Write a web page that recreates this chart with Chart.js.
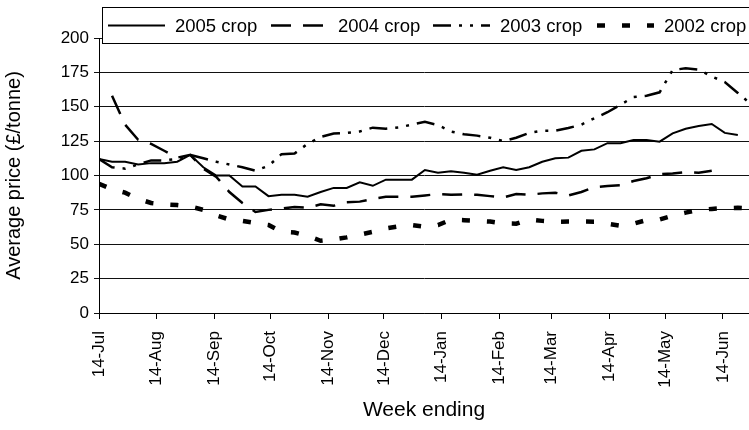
<!DOCTYPE html>
<html>
<head>
<meta charset="utf-8">
<script src="https://cdn.jsdelivr.net/npm/chart.js@4.4.1/dist/chart.umd.min.js"></script>
<style>
  html, body { margin: 0; padding: 0; background: #fff; }
  #wrap { position: relative; width: 749px; height: 430px; }
</style>
</head>
<body>
<div id="wrap"><canvas id="chart" width="749" height="430"></canvas></div>
<script>
// === DATA ===
// x axis: days after 14-Jul, one point per week
const monthLabels = ['14-Jul','14-Aug','14-Sep','14-Oct','14-Nov','14-Dec','14-Jan','14-Feb','14-Mar','14-Apr','14-May','14-Jun'];
const monthDays   = [0, 31, 62, 92, 123, 153, 184, 215, 243, 274, 304, 335];
const yTicks      = [0, 25, 50, 75, 100, 125, 150, 175, 200];

const crop2005 = [112,110,110,108,109,109,110,115,106,100, 100,92,92,85,86,86,84.5,88,91,91,
                  95,92.5,97,97,97,104,102,103,102,100.5, 103.5,106,104,106,110,112.5,113,118,119,123.5,
                  123.5,125.8,125.8,124.6,130.7,134,136,137.5,131,129.5];
const crop2004 = [null,158,137,126,123,118,113,115,105,99, 88,80,73.5,75,76,77,76.5,79,78,80.5,
                  81,83,84.6,84.6,84.6,85.5,86.5,86,86.3,86, 85,84,86.5,86,87,87.5,85.5,88,91.5,92.4,
                  93,96,98,101,101.5,102.5,102,103.5];
const crop2003 = [112,106,105,108,111,111,112,115,112.5,110, 108,106,103.5,107,115.5,116,123,128,130.5,131,
                  132,134.8,134,135,137,139,136.7,132,130,129, 127.5,125,127.5,131,132.6,132.6,134.5,137,141.6,146,
                  151.5,157,158,160.5,176.7,178,177,172,168,160, 152];
const crop2002 = [94,90,87.5,83,80,79,78.5,77.5,75,71, 68,67,65.5,64,59,58.5,56,52.5,53.5,55,
                  57,59,61.5,63,64,62.8,64,67.8,67.5,67, 66.5,65.2,65,68,67,66.4,66.5,66.5,66.4,65,
                  63.5,65,67.6,68,70.8,73,75,75.7,76.3,76.5, 76];

const toPoints = arr => arr.map((v, i) => ({ x: i * 7, y: v }));

// === LEGEND BOX (drawn over the top of the plot) ===
const boxLegend = {
    id: 'boxLegend',
    afterDraw(chart) {
        const ctx = chart.ctx;
        const itemX = [108, 271, 433, 597];
        ctx.save();
        ctx.fillStyle = '#fff';
        ctx.strokeStyle = '#000';
        ctx.lineWidth = 1;
        ctx.fillRect(102, 7, 660, 36);
        ctx.strokeRect(102.5, 7.5, 660, 36);
        ctx.font = '18.5px "Liberation Sans", Arial, sans-serif';
        ctx.textBaseline = 'middle';
        ctx.fillStyle = '#000';
        const y = 25.5;
        chart.data.datasets.forEach((ds, i) => {
            const x = itemX[i];
            ctx.beginPath();
            ctx.setLineDash(ds.borderDash || []);
            ctx.lineWidth = ds.borderWidth;
            ctx.strokeStyle = '#000';
            ctx.moveTo(x, y);
            ctx.lineTo(x + 57, y);
            ctx.stroke();
            ctx.setLineDash([]);
            ctx.fillText(ds.label, x + 67, y + 1);
        });
        ctx.restore();
    }
};

Chart.defaults.font.family = '"Liberation Sans", Arial, sans-serif';
Chart.defaults.color = '#000';

new Chart(document.getElementById('chart'), {
    type: 'line',
    data: {
        datasets: [
            { label: '2005 crop', data: toPoints(crop2005), borderColor: '#000', borderWidth: 2,   borderDash: [] },
            { label: '2004 crop', data: toPoints(crop2004), borderColor: '#000', borderWidth: 2.5, borderDash: [20, 12] },
            { label: '2003 crop', data: toPoints(crop2003), borderColor: '#000', borderWidth: 2.5, borderDash: [18, 8, 3, 8, 3, 8] },
            { label: '2002 crop', data: toPoints(crop2002), borderColor: '#000', borderWidth: 4.5, borderDash: [8, 17] }
        ]
    },
    options: {
        responsive: false, animation: false,
        layout: { padding: { top: 38, right: 0, left: 0, bottom: 0 } },
        elements: { point: { radius: 0 }, line: { tension: 0, fill: false } },
        plugins: { legend: { display: false }, tooltip: { enabled: false } },
        scales: {
            x: {
                type: 'linear', min: 0, max: 349,
                afterBuildTicks: s => { s.ticks = monthDays.map(v => ({ value: v })); },
                afterFit: s => { s.height = 117; s.paddingLeft = 0; s.paddingRight = 0; },
                ticks: {
                    font: { size: 17 }, color: '#000', padding: 12,
                    minRotation: 90, maxRotation: 90, autoSkip: false,
                    callback: v => monthLabels[monthDays.indexOf(v)]
                },
                grid: { drawOnChartArea: false, color: '#000', tickLength: 6, lineWidth: 1 },
                border: { color: '#000', width: 1 },
                title: { display: true, text: 'Week ending', font: { size: 21 }, color: '#000', padding: { top: 0, bottom: 7 } }
            },
            y: {
                min: 0, max: 200,
                afterBuildTicks: s => { s.ticks = yTicks.map(v => ({ value: v })); },
                afterFit: s => { s.width = 99; },
                ticks: { font: { size: 17 }, color: '#000', padding: 5 },
                grid: { color: '#111', lineWidth: 1, tickLength: 5 },
                border: { color: '#000', width: 1 },
                title: { display: true, text: 'Average price (£/tonne)', font: { size: 20 }, color: '#000', padding: { top: 2, bottom: 0 } }
            }
        }
    },
    plugins: [boxLegend]
});
</script>
</body>
</html>
